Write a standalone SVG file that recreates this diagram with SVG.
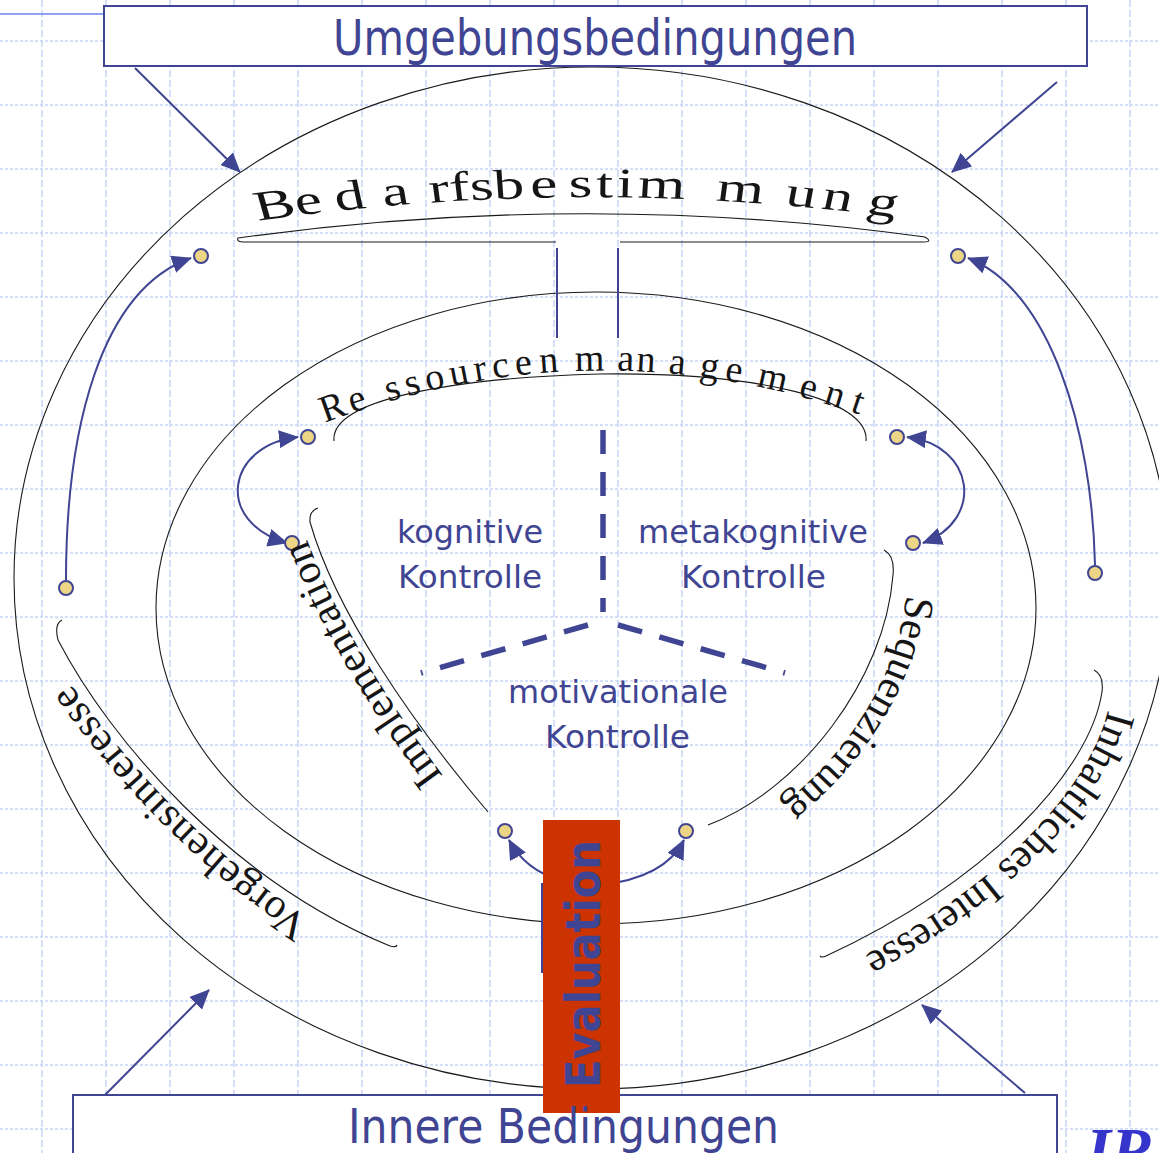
<svg xmlns="http://www.w3.org/2000/svg" width="1159" height="1153" viewBox="0 0 1159 1153">
<style>
.grid-v{fill:none;stroke:#c8d5f7;stroke-width:1.5;stroke-dasharray:7 3}
.grid-h{fill:none;stroke:#c8d5f7;stroke-width:1.5;stroke-dasharray:3 2}
.ring{fill:none;stroke:#1a1a1a;stroke-width:1.1}
.link{fill:none;stroke:#3f4592;stroke-width:2}
.dash{fill:none;stroke:#3f4592;stroke-width:5.5}
.box{fill:#fff;stroke:#3f4592;stroke-width:2}
.dot{fill:#ecd585;stroke:#3f4592;stroke-width:2}
.label{font-family:"DejaVu Sans",Verdana,sans-serif;fill:#3f4592}
.arc-text{font-family:"Liberation Serif","Times New Roman",serif;fill:#151515}
</style>
<defs>
<marker id="ah" viewBox="0 0 20 18" refX="19" refY="9" markerWidth="20" markerHeight="18" markerUnits="userSpaceOnUse" orient="auto-start-reverse">
<path d="M0,0 L20,9 L0,18 z" fill="#3f4592"/>
</marker>
<path id="pBedarf" d="M251.6 222 Q479.1 174 705.3 219"/>
<path id="pRes" d="M322 424 Q600 318 880 422"/>
<path id="pImpl" d="M470 812 C420 745 340 640 300 520"/>
<path id="pSeq" d="M907 585 C902 690 815 805 716 840"/>
<path id="pVorg" d="M375 958 C225 880 110 750 47 648"/>
<path id="pInh" d="M1110 700 C1096 785 995 893 832 972"/>
</defs>

<!-- background grid -->
<g id="grid">
<rect width="1159" height="1153" fill="#fff"/>
<path class="grid-v" d="M42 0V1153M106 0V1153M170 0V1153M234 0V1153M298 0V1153M362 0V1153M426 0V1153M490 0V1153M554 0V1153M618 0V1153M682 0V1153M746 0V1153M810 0V1153M874 0V1153M938 0V1153M1002 0V1153M1066 0V1153M1130 0V1153"/>
<path class="grid-h" d="M0 41H1159M0 105H1159M0 169H1159M0 233H1159M0 297H1159M0 361H1159M0 425H1159M0 489H1159M0 553H1159M0 617H1159M0 681H1159M0 745H1159M0 809H1159M0 873H1159M0 937H1159M0 1001H1159M0 1065H1159M0 1129H1159"/>
<line x1="0" y1="14" x2="104" y2="14" stroke="#6f84ea" stroke-width="1.5"/>
</g>

<!-- rings and bands -->
<g id="rings">
<ellipse class="ring" cx="592" cy="578" rx="578" ry="511"/>
<ellipse class="ring" cx="596" cy="608" rx="440" ry="316"/>
<path class="ring" d="M556 242H244Q236 242 238 238Q583 190 925 237Q933 242 924 242H620"/>
<path class="ring" d="M334 441C330 400 450 378 600 374C760 372 870 400 866 441"/>
<path class="ring" d="M318 508Q309 511 310 522C335 610 410 720 488 812"/>
<path class="ring" d="M884 550Q895 556 893 575C885 680 800 790 708 825"/>
<path class="ring" d="M62 620Q54 624 58 640C110 740 230 880 390 946Q396 948 397 945"/>
<path class="ring" d="M1094 670Q1104 675 1102 692C1090 770 990 880 826 956Q822 958 820 956"/>
</g>

<!-- connectors -->
<g id="connectors">
<path class="link" d="M557 248V338M618 248V338"/>
<path class="link" d="M135 68L240 172" marker-end="url(#ah)"/>
<path class="link" d="M1057 82L952 172" marker-end="url(#ah)"/>
<path class="link" d="M105 1095L209 990" marker-end="url(#ah)"/>
<path class="link" d="M1025 1093L922 1005" marker-end="url(#ah)"/>
<path class="link" d="M66 580C66 430 100 290 191 258" marker-end="url(#ah)"/>
<path class="link" d="M1095 565C1092 430 1050 290 968 258" marker-end="url(#ah)"/>
<path class="link" d="M298 437C226 445 214 522 287 543" marker-start="url(#ah)" marker-end="url(#ah)"/>
<path class="link" d="M907 437C975 445 985 520 923 543" marker-start="url(#ah)" marker-end="url(#ah)"/>
<path class="link" d="M560 880Q525 870 509 840" marker-end="url(#ah)"/>
<path class="link" d="M600 885Q665 878 684 840" marker-end="url(#ah)"/>
<path class="link" d="M542 883V973"/>
<path class="dash" d="M603 430V612" stroke-dasharray="24 18"/>
<path class="dash" d="M588 625L421 673" stroke-dasharray="25 18"/>
<path class="dash" d="M618 625L785 673" stroke-dasharray="25 18"/>
</g>

<!-- junction dots -->
<g id="dots">
<circle class="dot" cx="201" cy="256" r="7"/>
<circle class="dot" cx="958" cy="256" r="7"/>
<circle class="dot" cx="66" cy="588" r="7"/>
<circle class="dot" cx="1095" cy="573" r="7"/>
<circle class="dot" cx="308" cy="437" r="7"/>
<circle class="dot" cx="292" cy="543" r="7"/>
<circle class="dot" cx="897" cy="437" r="7"/>
<circle class="dot" cx="913" cy="543" r="7"/>
<circle class="dot" cx="505" cy="831" r="7"/>
<circle class="dot" cx="686" cy="831" r="7"/>
</g>

<!-- outer condition boxes -->
<g id="umgebung">
<rect class="box" x="104" y="6" width="983" height="60"/>
<text class="label" x="333" y="55" font-size="49" textLength="524" lengthAdjust="spacingAndGlyphs">Umgebungsbedingungen</text>
</g>
<g id="innere">
<rect class="box" x="73" y="1095" width="984" height="80"/>
</g>

<!-- evaluation bar -->
<g id="evaluation">
<rect x="543" y="820" width="77" height="293" fill="#cc3300"/>
<text class="label" transform="translate(600 1088) rotate(-90)" font-size="48" font-weight="bold" textLength="248" lengthAdjust="spacingAndGlyphs">Evaluation</text>
</g>
<g id="innere-label">
<text class="label" x="348" y="1143" font-size="48" textLength="431" lengthAdjust="spacingAndGlyphs">Innere Bedingungen</text>
</g>

<!-- control areas -->
<g id="kognitiv">
<text class="label" x="397" y="543" font-size="32" textLength="146" lengthAdjust="spacingAndGlyphs">kognitive</text>
<text class="label" x="398" y="588" font-size="32" textLength="144" lengthAdjust="spacingAndGlyphs">Kontrolle</text>
</g>
<g id="metakognitiv">
<text class="label" x="638" y="543" font-size="32" textLength="230" lengthAdjust="spacingAndGlyphs">metakognitive</text>
<text class="label" x="681" y="588" font-size="32" textLength="145" lengthAdjust="spacingAndGlyphs">Kontrolle</text>
</g>
<g id="motivational">
<text class="label" x="508" y="703" font-size="32" textLength="220" lengthAdjust="spacingAndGlyphs">motivationale</text>
<text class="label" x="545" y="748" font-size="32" textLength="145" lengthAdjust="spacingAndGlyphs">Kontrolle</text>
</g>

<!-- curved ring labels -->
<g id="bedarf" transform="matrix(1.45 0 0 1 -114.75 0)">
<text class="arc-text" font-size="42"><textPath href="#pBedarf" startOffset="5.5"><tspan dx="0 0 8.85 11.6 13.75 0 0 0 4 7.5 2.5 2.5 2.5 21.2 15.1 4.2 10.2">Bedarfsbestimmung</tspan></textPath></text>
</g>
<g id="ressourcen">
<text class="arc-text" font-size="38"><textPath href="#pRes" startOffset="3"><tspan dx="0 3.7 21 5.5 5.5 5.5 5.5 5.5 5.9 7.2 16.1 12.4 2.1 13.1 14.2 6.3 15.7 13.5 9.1 9">Ressourcenmanagement</tspan></textPath></text>
</g>
<g id="implementation">
<text class="arc-text" font-size="42" letter-spacing="0.6"><textPath href="#pImpl" startOffset="45">Implementation</textPath></text>
</g>
<g id="sequenzierung">
<text class="arc-text" font-size="42"><textPath href="#pSeq" startOffset="10">Sequenzierung</textPath></text>
</g>
<g id="vorgehen">
<text class="arc-text" font-size="42" letter-spacing="0.9"><textPath href="#pVorg" startOffset="75">Vorgehensinteresse</textPath></text>
</g>
<g id="inhalt">
<text class="arc-text" font-size="42"><textPath href="#pInh" startOffset="10">Inhaltliches Interesse</textPath></text>
</g>

<text x="1086" y="1172" font-family="Liberation Serif,serif" font-size="64" font-weight="bold" font-style="italic" fill="#3535cc">IR</text>
</svg>
